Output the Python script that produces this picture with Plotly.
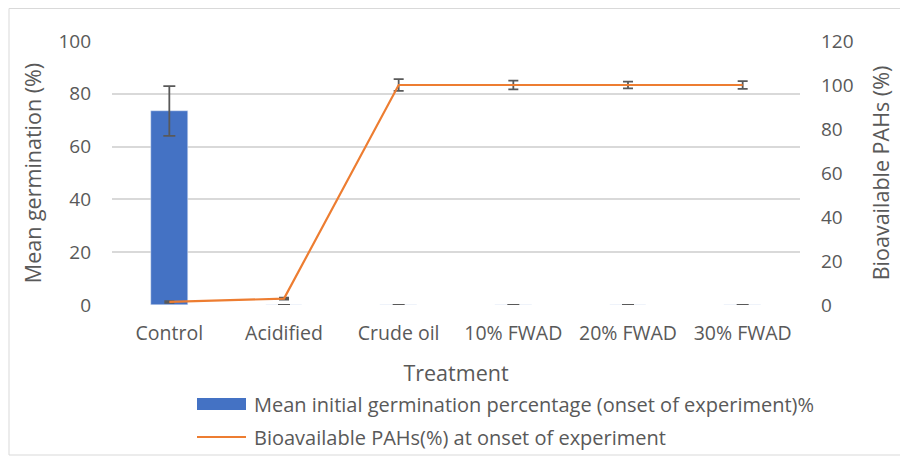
import plotly.graph_objects as go

categories = ["Control", "Acidified", "Crude oil", "10% FWAD", "20% FWAD", "30% FWAD"]
germination = [73.5, 0, 0, 0, 0, 0]
germination_err = [9.4, 0, 0, 0, 0, 0]
pahs = [1.4, 2.9, 100, 100, 100, 100]
pahs_err = [0.4, 0.4, 2.7, 2.0, 1.5, 1.8]
bar_name = "Mean initial germination percentage (onset of experiment)%"
line_name = "Bioavailable PAHs(%) at onset of experiment"

FONT = "Open Sans"
GREY = "#595959"
BLUE = "#4472C4"
ORANGE = "#ED7D31"

OFF = 8  # page body margin
W, H = 900, 449
L, R, T, B = 104, 108, 33, 152
PW, PH = W - L - R, H - T - B


def px(x):
    return (x - OFF - L) / PW


def py(y):
    return (H - B - (y - OFF)) / PH


fig = go.Figure()
fig.add_trace(go.Bar(
    x=categories, y=germination, name=bar_name,
    marker_color=BLUE, width=0.32,
    error_y=dict(type="data", array=germination_err, color=GREY, thickness=1.8, width=6),
    yaxis="y",
))
fig.add_trace(go.Scatter(
    x=categories, y=pahs, name=line_name,
    mode="lines", line=dict(color=ORANGE, width=2.2),
    error_y=dict(type="data", array=pahs_err, color=GREY, thickness=1.8, width=5),
    yaxis="y2",
))

shapes = [
    dict(type="rect", xref="paper", yref="paper", x0=px(9), x1=px(906), y0=py(455), y1=py(8.5),
         line=dict(color="#d9d9d9", width=1), layer="below"),
    dict(type="rect", xref="paper", yref="paper", x0=px(197), x1=px(246), y0=py(410), y1=py(398),
         fillcolor=BLUE, line=dict(width=0)),
    dict(type="line", xref="paper", yref="paper", x0=px(197), x1=px(246), y0=py(437), y1=py(437),
         line=dict(color=ORANGE, width=2)),
]
annotations = [
    dict(text=bar_name, xref="paper", yref="paper", x=px(252), y=py(404), xanchor="left",
         yanchor="middle", showarrow=False, font=dict(size=20, color=GREY)),
    dict(text=line_name, xref="paper", yref="paper", x=px(252), y=py(437), xanchor="left",
         yanchor="middle", showarrow=False, font=dict(size=20, color=GREY)),
]

fig.update_layout(
    width=W, height=H,
    margin=dict(l=L, r=R, t=T, b=B, autoexpand=False),
    paper_bgcolor="white", plot_bgcolor="white",
    font=dict(family=FONT, size=19, color=GREY),
    showlegend=False,
    bargap=0,
    xaxis=dict(showline=False, ticks="", tickfont=dict(size=19.5), automargin=False,
               ticklabelstandoff=14,
               title=dict(text="Treatment", font=dict(size=21.5), standoff=21)),
    yaxis=dict(range=[0, 100], dtick=20, showgrid=True, gridcolor="#d9d9d9", gridwidth=1.5,
               zeroline=False, showline=False, ticks="", ticklabelstandoff=20, automargin=False,
               tickfont=dict(size=19),
               title=dict(text="Mean germination (%)", font=dict(size=21.5), standoff=10)),
    yaxis2=dict(range=[0, 120], dtick=20, overlaying="y", side="right", showgrid=False,
                zeroline=False, showline=False, ticks="", ticklabelstandoff=20, automargin=False,
                tickfont=dict(size=19),
                title=dict(text="Bioavailable PAHs (%)", font=dict(size=21.5), standoff=21)),
    shapes=shapes,
    annotations=annotations,
)

fig.write_html("out.html")
